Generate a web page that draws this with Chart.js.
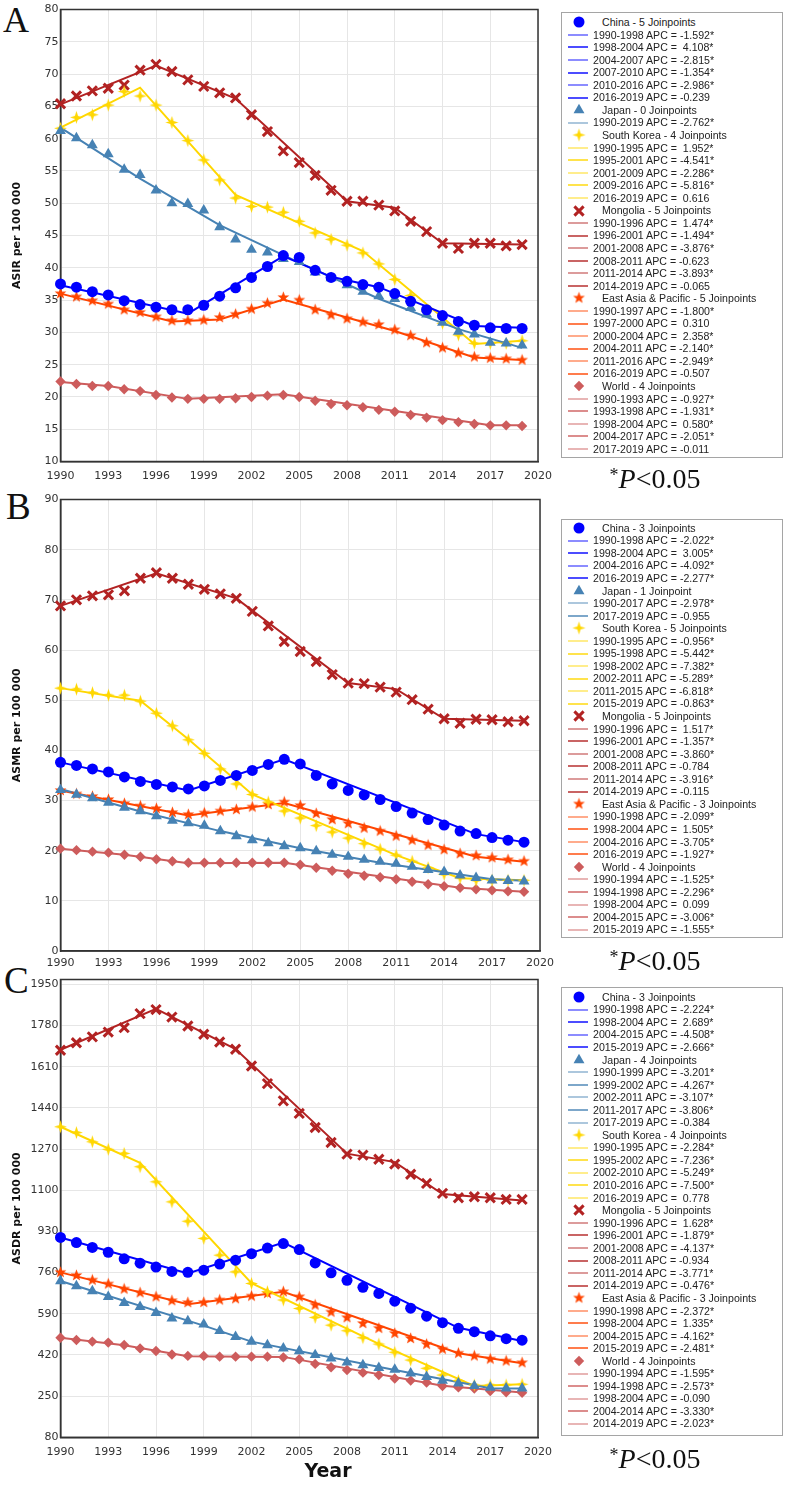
<!DOCTYPE html>
<html lang="en">
<head>
<meta charset="UTF-8">
<title>Joinpoint trends: ASIR, ASMR, ASDR</title>
<script src="https://cdn.jsdelivr.net/npm/chart.js@4.4.1/dist/chart.umd.min.js"></script>
<style>
  html, body { margin: 0; padding: 0; background: #fff; }
  body { width: 787px; height: 1488px; position: relative; overflow: hidden; }
  canvas.plot { position: absolute; left: 0; }
  .letter { position: absolute; font-family: "Liberation Serif", "Times New Roman", serif; font-size: 37px; line-height: 1; color: #111; }
  .legend { position: absolute; left: 561px; width: 222px; border: 1px solid #a5a5a5; box-sizing: border-box; background: #fff;
            font-family: "Liberation Sans", Arial, sans-serif; font-size: 10.6px; color: #222; }
  .row { position: absolute; height: 12.5px; line-height: 12.5px; white-space: pre; }
  .swatch { position: absolute; left: 6px; width: 20px; height: 2px; }
  .mark { position: absolute; left: 9px; }
  .sig { position: absolute; left: 590px; width: 130px; text-align: center; font-family: "Liberation Serif", "Times New Roman", serif;
         font-size: 28px; line-height: 32px; color: #111; }
  .sig sup { font-size: 18px; vertical-align: 7px; }
  .year { position: absolute; left: 278px; width: 100px; top: 1459px; text-align: center; font-family: "DejaVu Sans", Verdana, sans-serif;
          font-weight: bold; font-size: 19px; line-height: 22.8px; color: #111; }
</style>
</head>
<body>

<div class="letter" style="left:3px; top:2px; font-size:36px;">A</div>
<div class="letter" style="left:6px; top:488px;">B</div>
<div class="letter" style="left:4px; top:962px;">C</div>

<canvas id="chartA" class="plot" width="560" height="490" style="top:0px;"></canvas>
<canvas id="chartB" class="plot" width="560" height="490" style="top:490px;"></canvas>
<canvas id="chartC" class="plot" width="560" height="490" style="top:970px;"></canvas>

<div id="legendA" class="legend" style="top:12px; height:446px;"></div>
<div id="legendB" class="legend" style="top:519px; height:419px;"></div>
<div id="legendC" class="legend" style="top:987px; height:449px;"></div>

<div class="sig" style="top:459px;"><sup>*</sup><i>P</i>&lt;0.05</div>
<div class="sig" style="top:941px;"><sup>*</sup><i>P</i>&lt;0.05</div>
<div class="sig" style="top:1439px;"><sup>*</sup><i>P</i>&lt;0.05</div>

<div class="year">Year</div>

<script>
// ---- data ----
const years = [1990, 1991, 1992, 1993, 1994, 1995, 1996, 1997, 1998, 1999, 2000, 2001, 2002, 2003, 2004,
               2005, 2006, 2007, 2008, 2009, 2010, 2011, 2012, 2013, 2014, 2015, 2016, 2017, 2018, 2019];
const seriesNames = ["China", "Japan", "South Korea", "Mongolia", "East Asia & Pacific", "World"];

// A: ASIR per 100 000
const asirChina    = [37.5, 37.0, 36.3, 35.8, 34.9, 34.3, 33.9, 33.5, 33.5, 34.2, 35.6, 36.9, 38.5, 40.2, 41.9, 41.6, 39.6, 38.5, 37.9, 37.4, 37.0, 36.0, 34.8, 33.5, 32.6, 31.7, 31.1, 30.7, 30.6, 30.6];
const asirJapan    = [61.2, 60.1, 59.0, 57.6, 55.2, 54.4, 52.0, 50.0, 49.9, 48.9, 46.3, 44.4, 42.8, 42.4, 41.4, 40.9, 39.3, 38.4, 37.3, 36.3, 35.6, 35.2, 33.8, 32.8, 31.5, 30.1, 29.7, 28.4, 28.3, 28.0];
const asirKorea    = [61.6, 63.3, 63.7, 65.2, 67.3, 66.6, 65.2, 62.5, 59.7, 56.7, 53.6, 50.8, 49.5, 49.4, 48.6, 47.2, 45.4, 44.4, 43.5, 42.3, 40.6, 38.2, 35.7, 33.3, 31.4, 29.6, 28.3, 28.3, 28.3, 28.7];
const asirMongolia = [65.4, 66.6, 67.4, 67.8, 68.3, 70.6, 71.5, 70.4, 69.1, 68.1, 67.1, 66.3, 63.7, 61.1, 58.1, 56.3, 54.3, 52.0, 50.3, 50.3, 49.7, 48.8, 47.2, 45.6, 43.8, 43.0, 43.8, 43.8, 43.4, 43.6];
const asirEap      = [36.0, 35.5, 34.9, 34.4, 33.5, 33.1, 32.4, 31.8, 31.8, 31.9, 32.3, 32.8, 33.6, 34.5, 35.4, 35.0, 33.5, 32.7, 32.1, 31.6, 31.2, 30.4, 29.5, 28.4, 27.6, 26.8, 26.2, 26.0, 25.9, 25.7];
const asirWorld    = [22.4, 22.0, 21.7, 21.7, 21.2, 20.9, 20.3, 19.9, 19.7, 19.7, 19.7, 19.8, 20.0, 20.2, 20.3, 20.0, 19.4, 18.9, 18.7, 18.4, 18.0, 17.7, 17.2, 16.8, 16.4, 16.1, 15.8, 15.6, 15.6, 15.5];
const asirChinaFit    = [[1990, 37.3], [1998, 32.9], [2004, 41.8], [2007, 38.6], [2010, 37.0], [2016, 31.0], [2019, 30.7]];
const asirJapanFit    = [[1990, 61.7], [1995, 53.8], [2000, 46.6], [2005, 40.8], [2010, 35.2], [2015, 30.5], [2019, 27.6]];
const asirKoreaFit    = [[1990, 61.7], [1995, 67.9], [2001, 51.3], [2009, 42.6], [2016, 28.2], [2019, 28.7]];
const asirMongoliaFit = [[1990, 65.3], [1996, 71.3], [2001, 66.2], [2008, 50.3], [2011, 49.3], [2014, 43.8], [2019, 43.6]];
const asirEapFit      = [[1990, 36.0], [1997, 31.7], [2000, 32.0], [2004, 35.1], [2011, 30.2], [2016, 26.1], [2019, 25.7]];
const asirWorldFit    = [[1990, 22.3], [1993, 21.7], [1998, 19.7], [2004, 20.4], [2017, 15.6], [2019, 15.6]];
const asirJoinpoints = ["5 Joinpoints", "0 Joinpoints", "4 Joinpoints", "5 Joinpoints", "5 Joinpoints", "4 Joinpoints"];
const asirChinaApc    = [["1990-1998", "-1.592*"], ["1998-2004", "4.108*"], ["2004-2007", "-2.815*"], ["2007-2010", "-1.354*"], ["2010-2016", "-2.986*"], ["2016-2019", "-0.239"]];
const asirJapanApc    = [["1990-2019", "-2.762*"]];
const asirKoreaApc    = [["1990-1995", "1.952*"], ["1995-2001", "-4.541*"], ["2001-2009", "-2.286*"], ["2009-2016", "-5.816*"], ["2016-2019", "0.616"]];
const asirMongoliaApc = [["1990-1996", "1.474*"], ["1996-2001", "-1.494*"], ["2001-2008", "-3.876*"], ["2008-2011", "-0.623"], ["2011-2014", "-3.893*"], ["2014-2019", "-0.065"]];
const asirEapApc      = [["1990-1997", "-1.800*"], ["1997-2000", "0.310"], ["2000-2004", "2.358*"], ["2004-2011", "-2.140*"], ["2011-2016", "-2.949*"], ["2016-2019", "-0.507"]];
const asirWorldApc    = [["1990-1993", "-0.927*"], ["1993-1998", "-1.931*"], ["1998-2004", "0.580*"], ["2004-2017", "-2.051*"], ["2017-2019", "-0.011"]];

// B: ASMR per 100 000
const asmrChina    = [37.6, 37.0, 36.3, 35.7, 34.7, 33.8, 33.2, 32.7, 32.3, 32.9, 34.0, 35.0, 36.0, 37.2, 38.2, 37.3, 35.0, 33.3, 32.0, 31.1, 30.2, 28.8, 27.5, 26.2, 25.1, 23.9, 23.4, 22.6, 22.1, 21.7];
const asmrJapan    = [32.1, 31.2, 30.5, 29.6, 28.6, 27.9, 26.9, 26.0, 25.5, 25.0, 23.9, 22.9, 22.1, 21.5, 20.9, 20.5, 19.9, 19.2, 18.8, 18.2, 17.8, 17.4, 16.8, 16.2, 15.8, 15.1, 14.6, 14.1, 14.0, 13.9];
const asmrKorea    = [52.4, 52.2, 51.5, 51.0, 51.0, 49.8, 47.4, 44.9, 42.1, 39.4, 36.3, 33.3, 31.2, 29.7, 27.9, 26.5, 25.0, 23.7, 22.5, 21.4, 20.3, 19.1, 17.9, 16.6, 15.3, 14.6, 14.1, 14.1, 14.1, 14.1];
const asmrMongolia = [68.8, 70.0, 70.8, 71.0, 71.8, 74.3, 75.4, 74.3, 73.1, 72.1, 71.2, 70.3, 67.7, 64.8, 61.7, 59.7, 57.7, 55.1, 53.4, 53.3, 52.6, 51.6, 50.1, 48.2, 46.3, 45.4, 46.2, 46.1, 45.7, 45.9];
const asmrEap      = [32.0, 31.3, 30.8, 30.2, 29.4, 28.9, 28.4, 27.6, 27.2, 27.5, 27.9, 28.2, 28.7, 29.2, 29.7, 29.0, 27.4, 26.2, 25.4, 24.5, 23.9, 22.9, 22.1, 21.1, 20.2, 19.4, 19.0, 18.6, 18.2, 17.9];
const asmrWorld    = [20.4, 20.1, 19.8, 19.6, 19.2, 18.8, 18.3, 17.9, 17.6, 17.6, 17.6, 17.6, 17.6, 17.6, 17.6, 17.2, 16.6, 16.0, 15.4, 15.0, 14.7, 14.3, 13.8, 13.3, 12.9, 12.6, 12.3, 12.1, 11.9, 11.8];
const asmrChinaFit    = [[1990, 37.6], [1998, 32.0], [2004, 38.2], [2016, 23.3], [2019, 21.7]];
const asmrJapanFit    = [[1990, 32.3], [1995, 27.8], [2000, 23.9], [2005, 20.5], [2010, 17.6], [2017, 14.3], [2019, 14.0]];
const asmrKoreaFit    = [[1990, 52.4], [1995, 49.9], [1998, 42.2], [2002, 31.2], [2011, 19.1], [2015, 14.5], [2019, 14.1]];
const asmrMongoliaFit = [[1990, 68.8], [1996, 75.3], [2001, 70.3], [2008, 53.4], [2011, 52.2], [2014, 46.3], [2019, 45.9]];
const asmrEapFit      = [[1990, 32.0], [1998, 27.0], [2004, 29.5], [2016, 18.8], [2019, 17.8]];
const asmrWorldFit    = [[1990, 20.4], [1994, 19.2], [1998, 17.5], [2004, 17.6], [2015, 12.6], [2019, 11.8]];
const asmrJoinpoints = ["3 Joinpoints", "1 Joinpoint", "5 Joinpoints", "5 Joinpoints", "3 Joinpoints", "4 Joinpoints"];
const asmrChinaApc    = [["1990-1998", "-2.022*"], ["1998-2004", "3.005*"], ["2004-2016", "-4.092*"], ["2016-2019", "-2.277*"]];
const asmrJapanApc    = [["1990-2017", "-2.978*"], ["2017-2019", "-0.955"]];
const asmrKoreaApc    = [["1990-1995", "-0.956*"], ["1995-1998", "-5.442*"], ["1998-2002", "-7.382*"], ["2002-2011", "-5.289*"], ["2011-2015", "-6.818*"], ["2015-2019", "-0.863*"]];
const asmrMongoliaApc = [["1990-1996", "1.517*"], ["1996-2001", "-1.357*"], ["2001-2008", "-3.860*"], ["2008-2011", "-0.784"], ["2011-2014", "-3.916*"], ["2014-2019", "-0.115"]];
const asmrEapApc      = [["1990-1998", "-2.099*"], ["1998-2004", "1.505*"], ["2004-2016", "-3.705*"], ["2016-2019", "-1.927*"]];
const asmrWorldApc    = [["1990-1994", "-1.525*"], ["1994-1998", "-2.296*"], ["1998-2004", "0.099"], ["2004-2015", "-3.006*"], ["2015-2019", "-1.555*"]];

// C: ASDR per 100 000
const asdrChina    = [905, 884, 864, 844, 817, 799, 783, 765, 761, 770, 795, 811, 838, 861, 880, 855, 800, 759, 728, 699, 674, 642, 613, 580, 553, 530, 516, 499, 487, 481];
const asdrJapan    = [725, 704, 684, 660, 635, 619, 594, 571, 560, 546, 519, 495, 475, 461, 447, 436, 420, 406, 389, 378, 367, 360, 344, 330, 314, 303, 292, 285, 282, 282];
const asdrKorea    = [1362, 1338, 1300, 1269, 1252, 1197, 1135, 1052, 972, 901, 832, 763, 715, 681, 647, 612, 575, 543, 520, 491, 465, 431, 399, 365, 337, 314, 296, 296, 296, 299];
const asdrMongolia = [1678, 1709, 1733, 1753, 1771, 1829, 1846, 1815, 1778, 1744, 1712, 1682, 1613, 1540, 1469, 1417, 1359, 1297, 1249, 1245, 1228, 1208, 1166, 1128, 1087, 1069, 1073, 1069, 1062, 1062];
const asdrEap      = [761, 748, 729, 713, 692, 677, 660, 644, 636, 637, 647, 652, 663, 674, 681, 660, 626, 597, 574, 550, 530, 509, 488, 464, 444, 427, 416, 403, 395, 388];
const asdrWorld    = [491, 482, 475, 471, 461, 447, 436, 422, 416, 416, 413, 413, 413, 413, 410, 402, 383, 369, 358, 347, 337, 323, 314, 306, 292, 286, 281, 271, 266, 264];
const asdrChinaFit    = [[1990, 905], [1998, 756], [2004, 884], [2015, 532], [2019, 478]];
const asdrJapanFit    = [[1990, 725], [1999, 541], [2002, 475], [2011, 358], [2017, 283], [2019, 281]];
const asdrKoreaFit    = [[1990, 1362], [1995, 1213], [2002, 716], [2010, 466], [2016, 292], [2019, 299]];
const asdrMongoliaFit = [[1990, 1680], [1996, 1849], [2001, 1683], [2008, 1251], [2011, 1216], [2014, 1084], [2019, 1058]];
const asdrEapFit      = [[1990, 761], [1998, 629], [2004, 681], [2015, 427], [2019, 386]];
const asdrWorldFit    = [[1990, 491], [1994, 460], [1998, 415], [2004, 412], [2014, 293], [2019, 265]];
const asdrTicks = [80, 250, 420, 590, 760, 930, 1100, 1270, 1440, 1610, 1780, 1950];
const asdrJoinpoints = ["3 Joinpoints", "4 Joinpoints", "4 Joinpoints", "5 Joinpoints", "3 Joinpoints", "4 Joinpoints"];
const asdrChinaApc    = [["1990-1998", "-2.224*"], ["1998-2004", "2.689*"], ["2004-2015", "-4.508*"], ["2015-2019", "-2.666*"]];
const asdrJapanApc    = [["1990-1999", "-3.201*"], ["1999-2002", "-4.267*"], ["2002-2011", "-3.107*"], ["2011-2017", "-3.806*"], ["2017-2019", "-0.384"]];
const asdrKoreaApc    = [["1990-1995", "-2.284*"], ["1995-2002", "-7.236*"], ["2002-2010", "-5.249*"], ["2010-2016", "-7.500*"], ["2016-2019", "0.778"]];
const asdrMongoliaApc = [["1990-1996", "1.628*"], ["1996-2001", "-1.879*"], ["2001-2008", "-4.137*"], ["2008-2011", "-0.934"], ["2011-2014", "-3.771*"], ["2014-2019", "-0.476*"]];
const asdrEapApc      = [["1990-1998", "-2.372*"], ["1998-2004", "1.335*"], ["2004-2015", "-4.162*"], ["2015-2019", "-2.481*"]];
const asdrWorldApc    = [["1990-1994", "-1.595*"], ["1994-1998", "-2.573*"], ["1998-2004", "-0.090"], ["2004-2014", "-3.330*"], ["2014-2019", "-2.023*"]];

// ---- styles ----
function starCanvas(n, outer, inner, color) {
  const s = Math.ceil(outer * 2) + 2;
  const c = document.createElement('canvas');
  c.width = s; c.height = s;
  const g = c.getContext('2d');
  g.translate(s / 2, s / 2);
  g.beginPath();
  for (let i = 0; i < n * 2; i++) {
    const r = i % 2 ? inner : outer;
    const a = -Math.PI / 2 + i * Math.PI / n;
    g.lineTo(Math.cos(a) * r, Math.sin(a) * r);
  }
  g.closePath();
  g.fillStyle = color;
  g.fill();
  return c;
}
const star4 = starCanvas(4, 6.5, 2.2, '#ffd700');
const star5 = starCanvas(5, 6.2, 2.6, '#ff4500');

const styleList = [
  { color: '#0000ff', point: 'circle', radius: 5.5, border: 0 },
  { color: '#4682b4', point: 'triangle', radius: 6.3, border: 0 },
  { color: '#ffd700', point: star4, radius: 6, border: 0 },
  { color: '#b22222', point: 'crossRot', radius: 6.5, border: 3 },
  { color: '#ff4500', point: star5, radius: 6, border: 0 },
  { color: '#cd5c5c', point: 'rectRot', radius: 5.2, border: 0 }
];

const tickFont = { family: 'DejaVu Sans', size: 11 };

const framePlugin = {
  id: 'frame',
  beforeDatasetsDraw(chart) {
    const { ctx, chartArea: a } = chart;
    ctx.save();
    ctx.strokeStyle = '#333';
    ctx.lineWidth = 1.5;
    ctx.strokeRect(a.left, a.top, a.right - a.left, a.bottom - a.top);
    ctx.restore();
  }
};

function makeChart(id, cfg) {
  const datasets = [];
  cfg.values.forEach((vals, i) => {
    const st = styleList[i];
    datasets.push({
      label: seriesNames[i],
      data: years.map((yr, j) => ({ x: yr, y: vals[j] })),
      showLine: false,
      pointStyle: st.point,
      pointRadius: st.radius,
      pointHoverRadius: st.radius,
      pointBackgroundColor: st.color,
      pointBorderColor: st.color,
      pointBorderWidth: st.border,
      order: 1,
      clip: false
    });
  });
  cfg.fits.forEach((fit, i) => {
    datasets.push({
      label: seriesNames[i] + ' fit',
      data: fit.map(p => ({ x: p[0], y: p[1] })),
      showLine: true,
      borderColor: styleList[i].color,
      borderWidth: 2,
      pointRadius: 0,
      tension: 0,
      order: 2,
      clip: false
    });
  });

  const yScale = {
    min: cfg.min, max: cfg.max,
    ticks: { stepSize: cfg.step, font: tickFont, color: '#333', padding: 2, callback: v => String(v) },
    grid: { color: '#e6e6e6', drawTicks: false },
    border: { color: '#333', width: 1.5 },
    title: { display: true, text: cfg.title, color: '#111',
             font: { family: 'DejaVu Sans', size: 11, weight: 'bold' }, padding: { top: 11, bottom: 0 } },
    afterFit: s => { s.width = 60.5; }
  };
  if (cfg.ticks) {
    yScale.afterBuildTicks = s => { s.ticks = cfg.ticks.map(v => ({ value: v })); };
  }

  return new Chart(document.getElementById(id), {
    type: 'scatter',
    data: { datasets },
    options: {
      responsive: false,
      animation: false,
      layout: { padding: { top: cfg.padTop, right: 16, left: 0, bottom: 0 } },
      plugins: { legend: { display: false }, tooltip: { enabled: false } },
      scales: {
        x: {
          type: 'linear', min: 1990, max: 2020,
          ticks: { stepSize: 3, font: tickFont, color: '#333', padding: cfg.xPad, callback: v => String(v) },
          grid: { color: '#e6e6e6', drawTicks: false },
          border: { color: '#333', width: 1.5 },
          afterFit: s => { s.height = cfg.xHeight; }
        },
        y: yScale
      }
    },
    plugins: [framePlugin]
  });
}

makeChart('chartA', {
  values: [asirChina, asirJapan, asirKorea, asirMongolia, asirEap, asirWorld],
  fits: [asirChinaFit, asirJapanFit, asirKoreaFit, asirMongoliaFit, asirEapFit, asirWorldFit],
  min: 10, max: 80, step: 5, title: 'ASIR per 100 000', padTop: 8.5, xHeight: 28.5, xPad: 8
});
makeChart('chartB', {
  values: [asmrChina, asmrJapan, asmrKorea, asmrMongolia, asmrEap, asmrWorld],
  fits: [asmrChinaFit, asmrJapanFit, asmrKoreaFit, asmrMongoliaFit, asmrEapFit, asmrWorldFit],
  min: 0, max: 90, step: 10, title: 'ASMR per 100 000', padTop: 8.3, xHeight: 29, xPad: 6
});
makeChart('chartC', {
  values: [asdrChina, asdrJapan, asdrKorea, asdrMongolia, asdrEap, asdrWorld],
  fits: [asdrChinaFit, asdrJapanFit, asdrKoreaFit, asdrMongoliaFit, asdrEapFit, asdrWorldFit],
  min: 80, max: 1970, step: 170, ticks: asdrTicks, title: 'ASDR per 100 000', padTop: 9, xHeight: 22.7, xPad: 8
});

// ---- legends ----
function drawMarker(g, k, x, y) {
  const st = styleList[k];
  g.fillStyle = st.color;
  g.strokeStyle = st.color;
  if (typeof st.point !== 'string') {
    g.drawImage(st.point, x - st.point.width / 2, y - st.point.height / 2);
    return;
  }
  const r = st.radius;
  g.beginPath();
  if (st.point === 'circle') {
    g.arc(x, y, r, 0, Math.PI * 2);
  } else if (st.point === 'triangle') {
    g.moveTo(x, y - r); g.lineTo(x + r * 0.866, y + r / 2); g.lineTo(x - r * 0.866, y + r / 2); g.closePath();
  } else if (st.point === 'rectRot') {
    g.moveTo(x, y - r); g.lineTo(x + r, y); g.lineTo(x, y + r); g.lineTo(x - r, y); g.closePath();
  } else if (st.point === 'crossRot') {
    const d = r * 0.707;
    g.moveTo(x - d, y - d); g.lineTo(x + d, y + d);
    g.moveTo(x + d, y - d); g.lineTo(x - d, y + d);
    g.lineWidth = st.border;
    g.stroke();
    return;
  }
  g.fill();
}

function hexAlpha(hex, a) {
  const n = parseInt(hex.slice(1), 16);
  return 'rgba(' + (n >> 16) + ',' + ((n >> 8) & 255) + ',' + (n & 255) + ',' + a + ')';
}

function buildLegend(id, firstRow, joinLabels, apcLists) {
  const box = document.getElementById(id);
  const step = 12.55;
  let row = 0;
  seriesNames.forEach((name, i) => {
    const cy = firstRow + row * step;
    const head = document.createElement('div');
    head.className = 'row';
    head.style.left = '40px';
    head.style.top = (cy - 6.25) + 'px';
    head.textContent = name + ' - ' + joinLabels[i];
    box.appendChild(head);
    const mk = document.createElement('canvas');
    mk.width = 16; mk.height = 16;
    mk.className = 'mark';
    mk.style.top = Math.round(cy - 8) + 'px';
    drawMarker(mk.getContext('2d'), i, 8, 8);
    box.appendChild(mk);
    row++;
    apcLists[i].forEach((seg, k) => {
      const y = firstRow + row * step;
      const sw = document.createElement('div');
      sw.className = 'swatch';
      sw.style.top = Math.round(y - 1) + 'px';
      sw.style.background = hexAlpha(styleList[i].color, k % 2 ? 0.7 : 0.45);
      box.appendChild(sw);
      const t = document.createElement('div');
      t.className = 'row';
      t.style.left = '31px';
      t.style.top = (y - 6.25) + 'px';
      const v = seg[1].charAt(0) === '-' ? seg[1] : ' ' + seg[1];
      t.textContent = seg[0] + ' APC = ' + v;
      box.appendChild(t);
      row++;
    });
  });
}

buildLegend('legendA', 9.3, asirJoinpoints, [asirChinaApc, asirJapanApc, asirKoreaApc, asirMongoliaApc, asirEapApc, asirWorldApc]);
buildLegend('legendB', 8, asmrJoinpoints, [asmrChinaApc, asmrJapanApc, asmrKoreaApc, asmrMongoliaApc, asmrEapApc, asmrWorldApc]);
buildLegend('legendC', 9, asdrJoinpoints, [asdrChinaApc, asdrJapanApc, asdrKoreaApc, asdrMongoliaApc, asdrEapApc, asdrWorldApc]);
</script>
</body>
</html>
